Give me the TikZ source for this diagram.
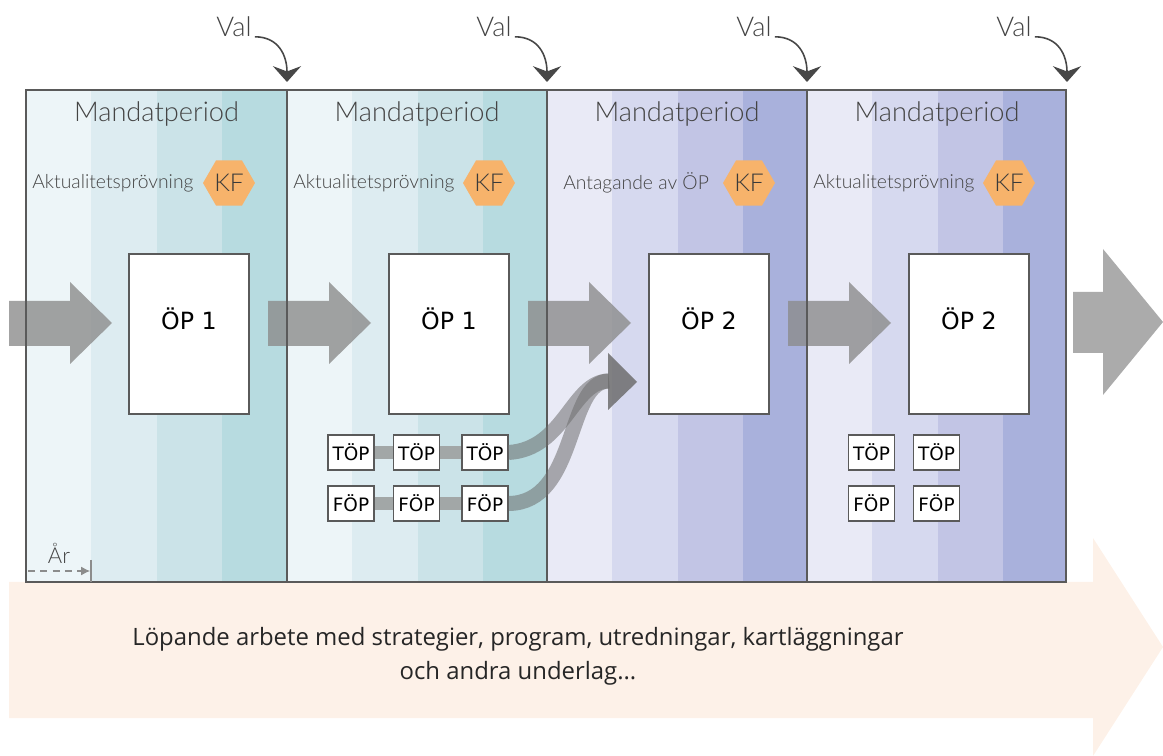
\documentclass[tikz,border=0pt]{standalone}
\usepackage{fontspec}
\setmainfont{DejaVu Sans}
\newfontfamily\lightfont{Lato}[UprightFont={* Light}]
\newfontfamily\opensans{Open Sans}
\usetikzlibrary{arrows.meta,shapes.geometric}
\definecolor{tA}{HTML}{EDF5F8}
\definecolor{tB}{HTML}{DDECF1}
\definecolor{tC}{HTML}{CBE3E8}
\definecolor{tD}{HTML}{B7DBE0}
\definecolor{pA}{HTML}{E9EAF6}
\definecolor{pB}{HTML}{D6D9EF}
\definecolor{pC}{HTML}{C2C5E5}
\definecolor{pD}{HTML}{A9B1DC}
\definecolor{bandc}{HTML}{FDF1E8}
\definecolor{bordc}{HTML}{5A5A5A}
\definecolor{txtc}{HTML}{444444}
\definecolor{kfc}{HTML}{F7B36B}
\definecolor{kftxt}{HTML}{3A3A3A}
\definecolor{arrgray}{HTML}{8C8C8C}
\definecolor{bigarr}{HTML}{ABABAB}
\definecolor{barc}{HTML}{A2A7A7}
\definecolor{curvec}{HTML}{6E6E6E}
\definecolor{valc}{HTML}{474747}
\begin{document}
\begin{tikzpicture}[x=0.02cm,y=-0.02cm,
  bordline/.style={draw=bordc, line width=0.7pt},
  mandat/.style={font=\lightfont\fontsize{15.5}{18}\selectfont, text=txtc, inner sep=0pt},
  akt/.style={font=\lightfont\fontsize{11}{13}\selectfont, text=txtc, inner sep=0pt},
  kfhex/.style={regular polygon, regular polygon sides=6, minimum size=1.04cm, inner sep=0pt, fill=kfc, font=\lightfont\fontsize{14}{16}\selectfont, text=kftxt},
  opbox/.style={draw=bordc, line width=0.7pt, fill=white, minimum width=2.4cm, minimum height=3.2cm, inner sep=0pt},
  optext/.style={font=\fontsize{13.5}{16}\selectfont, inner sep=0pt},
  smallbox/.style={draw=bordc, line width=0.7pt, fill=white, minimum width=0.92cm, minimum height=0.7cm, inner sep=0pt, font=\fontsize{10.5}{12}\selectfont},
  valtext/.style={font=\lightfont\fontsize{15.5}{18}\selectfont, text=txtc, inner sep=0pt},
  valarrow/.style={draw=valc, line width=0.9pt, -{Stealth[length=9pt,width=16pt,inset=3pt]}},
  barline/.style={draw=barc, line width=0.26cm},
  curveline/.style={draw=curvec, draw opacity=0.55, line width=0.3cm},
  yeararrow/.style={draw=black!45, line width=0.6pt, dash pattern=on 4pt off 3pt, -{Latex[length=5pt,width=5pt]}},
  bottomtext/.style={font=\opensans\fontsize{13.6}{19.3}\selectfont, text=black!85, align=center, inner sep=0pt}
]
\useasboundingbox (0,0) rectangle (1163,756);
% bottom band arrow
\fill[bandc] (9,582) -- (1093,582) -- (1093,538) -- (1163,647) -- (1093,756) -- (1093,718) -- (9,718) -- cycle;
% stripes
\foreach \p/\ca/\cb/\cc/\cd in {26/tA/tB/tC/tD, 287/tA/tB/tC/tD, 547/pA/pB/pC/pD, 807/pA/pB/pC/pD}{
  \fill[\ca] (\p,90) rectangle ({\p+65.25},582);
  \fill[\cb] ({\p+65.25},90) rectangle ({\p+130.5},582);
  \fill[\cc] ({\p+130.5},90) rectangle ({\p+195.75},582);
  \fill[\cd] ({\p+195.75},90) rectangle ({\p+260},582);
}
% gray arrows
\foreach \x in {9,268,528,788}{
  \fill[arrgray, fill opacity=0.8] (\x,301) -- ({\x+61},301) -- ({\x+61},282) -- ({\x+103},323) -- ({\x+61},364) -- ({\x+61},346) -- (\x,346) -- cycle;
}
\fill[bigarr] (1073,292) -- (1103,292) -- (1103,249) -- (1163,322) -- (1103,395) -- (1103,353) -- (1073,353) -- cycle;
% period borders
\draw[bordline] (26,90) rectangle (1066,582);
\draw[bordline] (287,90) -- (287,582);
\draw[bordline] (547,90) -- (547,582);
\draw[bordline] (807,90) -- (807,582);
% headers
\node[mandat] (m1) at (156.5,114) {Mandatperiod};
\node[mandat] (m2) at (417,114) {Mandatperiod};
\node[mandat] (m3) at (677,114) {Mandatperiod};
\node[mandat] (m4) at (937,114) {Mandatperiod};
\node[akt, anchor=west] (a1) at (32,183) {Aktualitetsprövning};
\node[akt, anchor=west] (a2) at (293,183) {Aktualitetsprövning};
\node[akt, anchor=west] (a3) at (563,183) {Antagande av ÖP};
\node[akt, anchor=west] (a4) at (813,183) {Aktualitetsprövning};
\node[kfhex] (kf1) at (229,183) {KF};
\node[kfhex] (kf2) at (489,183) {KF};
\node[kfhex] (kf3) at (749,183) {KF};
\node[kfhex] (kf4) at (1009,183) {KF};
% Val
\foreach \i/\e in {1/287,2/547,3/807,4/1067}{
  \node[valtext] (val\i) at ({\e-53},27) {Val};
  \coordinate (ve\i) at (\e,82);
  \draw[valarrow] ([xshift=0.06cm]val\i.base east) .. controls +(24,0) and +(0,-26) .. (ve\i);
}
% OP boxes
\node[opbox] (op1) at (189,334) {};
\node[opbox] (op2) at (449,334) {};
\node[opbox] (op3) at (709,334) {};
\node[opbox] (op4) at (969,334) {};
\node[optext] (opt1) at (189,319) {ÖP 1};
\node[optext] (opt2) at (449,319) {ÖP 1};
\node[optext] (opt3) at (709,319) {ÖP 2};
\node[optext] (opt4) at (969,319) {ÖP 2};
% TOP / FOP period 2
\node[smallbox] (t1) at (351,452.5) {TÖP};
\node[smallbox] (t2) at (416.5,452.5) {TÖP};
\node[smallbox] (t3) at (485,452.5) {TÖP};
\node[smallbox] (f1) at (351,503.5) {FÖP};
\node[smallbox] (f2) at (416.5,503.5) {FÖP};
\node[smallbox] (f3) at (485,503.5) {FÖP};
\draw[barline] (t1.east) -- (t2.west);
\draw[barline] (t2.east) -- (t3.west);
\draw[barline] (f1.east) -- (f2.west);
\draw[barline] (f2.east) -- (f3.west);
% curves to OP2
\coordinate (ah) at (609,381);
\draw[curveline] (t3.east) .. controls (565,449) and (572,381) .. (ah);
\draw[curveline] (f3.east) .. controls (578,503) and (566,381) .. (ah);
\fill[curvec, fill opacity=0.85] (608,353) -- (637,382) -- (608,410) -- cycle;
% TOP / FOP period 4
\node[smallbox] (t4) at (871.5,452.5) {TÖP};
\node[smallbox] (t5) at (936.5,452.5) {TÖP};
\node[smallbox] (f4) at (871.5,503.5) {FÖP};
\node[smallbox] (f5) at (936.5,503.5) {FÖP};
% year
\node[akt, font=\lightfont\fontsize{12.5}{14}\selectfont] (ar) at (59,553) {År};
\coordinate (ya) at (28,571);
\coordinate (yb) at (90,571);
\draw[yeararrow] (ya) -- (yb);
\coordinate (tk1) at (91,560);
\coordinate (tk2) at (91,582);
\draw[black!45, line width=0.6pt] (tk1) -- (tk2);
% bottom text
\node[bottomtext] (lop) at (518,656) {Löpande arbete med strategier, program, utredningar, kartläggningar\\och andra underlag...};
\end{tikzpicture}
\end{document}
